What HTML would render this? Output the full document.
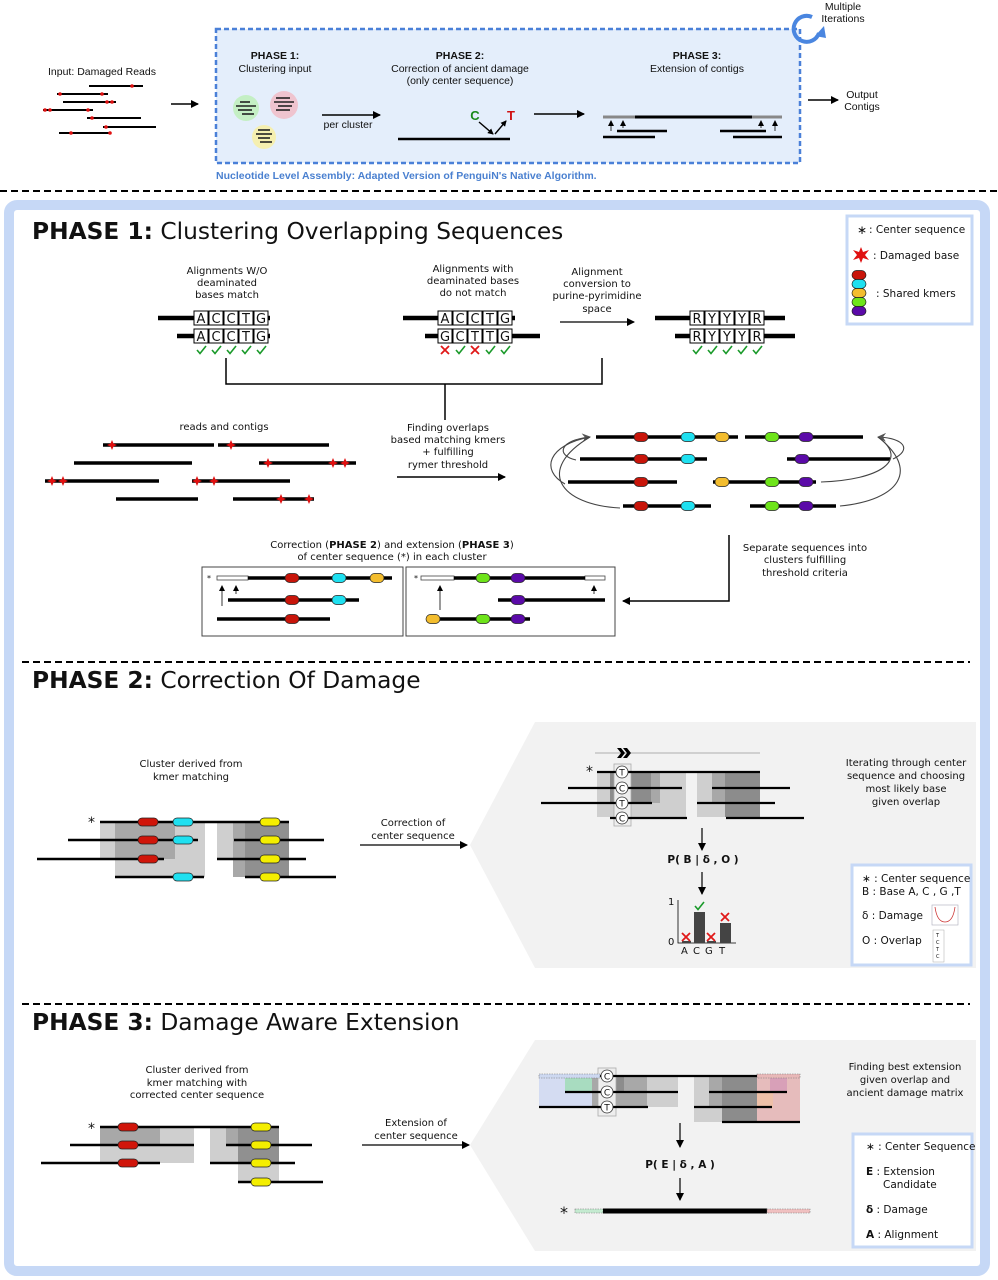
<!DOCTYPE html>
<html><head><meta charset="utf-8"><style>
html,body{margin:0;padding:0;background:#fff;}
svg{display:block;}
text{font-family:"DejaVu Sans","Liberation Sans",sans-serif;fill:#111;}
.s{font-size:10px;text-anchor:middle;}
.sl{font-size:10.5px;}
.b{font-weight:bold;}
.top text{font-family:"Liberation Sans",sans-serif;font-size:10.5px;}
.rd{stroke:#000;stroke-width:3.5;}
.k{stroke:#222;stroke-width:0.7;}
.ttl{font-size:23.3px;}
</style></head><body>
<svg width="998" height="1280" viewBox="0 0 998 1280" xmlns="http://www.w3.org/2000/svg">
<defs>
<marker id="ah" markerWidth="8" markerHeight="8" refX="7" refY="4" orient="auto" markerUnits="userSpaceOnUse"><path d="M0,0 L8,4 L0,8 z" fill="#000"/></marker>
<marker id="ahs" markerWidth="6" markerHeight="6" refX="5" refY="3" orient="auto" markerUnits="userSpaceOnUse"><path d="M0,0 L6,3 L0,6 z" fill="#000"/></marker>
<marker id="ahg" markerWidth="9" markerHeight="9" refX="8" refY="4.5" orient="auto" markerUnits="userSpaceOnUse"><path d="M0,0 L9,4.5 L0,9 L3,4.5 z" fill="#555"/></marker>
<g id="kr"><rect x="-7" y="-4.5" width="14" height="9" rx="4.5" fill="#c8150a" class="k"/></g>
<g id="kc"><rect x="-7" y="-4.5" width="14" height="9" rx="4.5" fill="#1fe0f0" class="k"/></g>
<g id="ko"><rect x="-7" y="-4.5" width="14" height="9" rx="4.5" fill="#f3bd2e" class="k"/></g>
<g id="kg"><rect x="-7" y="-4.5" width="14" height="9" rx="4.5" fill="#6ee41a" class="k"/></g>
<g id="kp"><rect x="-7" y="-4.5" width="14" height="9" rx="4.5" fill="#5b0aa8" class="k"/></g>
<g id="ky"><rect x="-10" y="-4" width="20" height="8" rx="4" fill="#f4ee00" class="k"/></g>
<g id="kr2"><rect x="-10" y="-4" width="20" height="8" rx="4" fill="#d0150a" class="k"/></g>
<g id="kc2"><rect x="-10" y="-4" width="20" height="8" rx="4" fill="#1fe0f0" class="k"/></g>
<g id="st"><path d="M0,-5 L1.5,-1.5 L5,0 L1.5,1.5 L0,5 L-1.5,1.5 L-5,0 L-1.5,-1.5 z" fill="#e01010"/></g>
<g id="ck"><path d="M-4,0 L-1,3.5 L5,-4" fill="none" stroke="#1a9a2a" stroke-width="1.6"/></g>
<g id="xx"><path d="M-4,-4 L4,4 M4,-4 L-4,4" stroke="#e01818" stroke-width="1.8"/></g>
</defs>

<!-- ===== TOP ===== -->
<g class="top">
<text class="s" x="102" y="75">Input: Damaged Reads</text>
<g>
<line x1="89" y1="86" x2="143" y2="86" stroke="#000" stroke-width="2"/>
<line x1="57" y1="94" x2="108" y2="94" stroke="#000" stroke-width="2"/>
<line x1="63" y1="102" x2="116" y2="102" stroke="#000" stroke-width="2"/>
<line x1="43" y1="110" x2="93" y2="110" stroke="#000" stroke-width="2"/>
<line x1="87" y1="118" x2="141" y2="118" stroke="#000" stroke-width="2"/>
<line x1="103" y1="127" x2="156" y2="127" stroke="#000" stroke-width="2"/>
<line x1="59" y1="133" x2="110" y2="133" stroke="#000" stroke-width="2"/>
</g>
<g fill="#e01010"><circle cx="132" cy="86" r="1.8"/><circle cx="60" cy="94" r="1.8"/><circle cx="102" cy="94" r="1.8"/><circle cx="107" cy="102" r="1.8"/><circle cx="112" cy="102" r="1.8"/><circle cx="45" cy="110" r="1.8"/><circle cx="50" cy="110" r="1.8"/><circle cx="88" cy="110" r="1.8"/><circle cx="92" cy="118" r="1.8"/><circle cx="106" cy="127" r="1.8"/><circle cx="71" cy="133" r="1.8"/><circle cx="110" cy="133" r="1.8"/></g>
<line x1="171" y1="104" x2="198" y2="104" stroke="#000" stroke-width="1.5" marker-end="url(#ah)"/>

<rect x="216" y="29" width="584" height="134" fill="#e4eefb" stroke="#4a80d8" stroke-width="2.5" stroke-dasharray="5,3"/>
<text class="s b" x="275" y="59">PHASE 1:</text>
<text class="s" x="275" y="72">Clustering input</text>
<circle cx="246" cy="108" r="13" fill="#c4efc4"/><circle cx="284" cy="105" r="14" fill="#efc4cf"/><circle cx="264" cy="137" r="12" fill="#f5efb0"/>
<g stroke="#222" stroke-width="1.6">
<line x1="240" y1="102" x2="250" y2="102"/><line x1="236" y1="106" x2="256" y2="106"/><line x1="238" y1="110" x2="252" y2="110"/><line x1="242" y1="114" x2="254" y2="114"/>
<line x1="276" y1="98" x2="290" y2="98"/><line x1="274" y1="102" x2="294" y2="102"/><line x1="278" y1="106" x2="292" y2="106"/><line x1="276" y1="110" x2="290" y2="110"/>
<line x1="258" y1="130" x2="270" y2="130"/><line x1="256" y1="134" x2="272" y2="134"/><line x1="258" y1="138" x2="270" y2="138"/><line x1="260" y1="142" x2="272" y2="142"/>
</g>
<line x1="322" y1="115" x2="380" y2="115" stroke="#000" stroke-width="1.5" marker-end="url(#ah)"/>
<text class="s" x="348" y="128">per cluster</text>
<text class="s b" x="460" y="59">PHASE 2:</text>
<text class="s" x="460" y="72">Correction of ancient damage</text>
<text class="s" x="460" y="84">(only center sequence)</text>
<line x1="398" y1="139" x2="510" y2="139" stroke="#000" stroke-width="2.5"/>
<text x="475" y="120" style="font-size:13px;font-weight:bold;fill:#1a8a1a;text-anchor:middle">C</text>
<text x="511" y="120" style="font-size:13px;font-weight:bold;fill:#d01010;text-anchor:middle">T</text>
<line x1="479" y1="122" x2="493" y2="134" stroke="#000" stroke-width="1.4" marker-end="url(#ahs)"/>
<line x1="495" y1="134" x2="506" y2="121" stroke="#000" stroke-width="1.4" marker-end="url(#ahs)"/>
<line x1="534" y1="114" x2="584" y2="114" stroke="#000" stroke-width="1.5" marker-end="url(#ah)"/>
<text class="s b" x="697" y="59">PHASE 3:</text>
<text class="s" x="697" y="72">Extension of contigs</text>
<line x1="603" y1="117" x2="782" y2="117" stroke="#888" stroke-width="3"/>
<line x1="635" y1="117" x2="752" y2="117" stroke="#000" stroke-width="3"/>
<line x1="617" y1="131" x2="667" y2="131" stroke="#000" stroke-width="2.5"/><line x1="603" y1="137" x2="655" y2="137" stroke="#000" stroke-width="2.5"/>
<line x1="720" y1="131" x2="766" y2="131" stroke="#000" stroke-width="2.5"/><line x1="733" y1="137" x2="782" y2="137" stroke="#000" stroke-width="2.5"/>
<g stroke="#000" stroke-width="0.8" marker-end="url(#ahs)"><line x1="611" y1="131" x2="611" y2="121"/><line x1="623" y1="128" x2="623" y2="121"/><line x1="761" y1="128" x2="761" y2="121"/><line x1="775" y1="131" x2="775" y2="121"/></g>
<path d="M812,17 A13,13 0 1 0 819,33" fill="none" stroke="#4a86e0" stroke-width="4"/>
<path d="M815,36 L824,26 L826,38 z" fill="#4a86e0"/>
<text class="s" x="843" y="10">Multiple</text><text class="s" x="843" y="22">Iterations</text>
<line x1="808" y1="100" x2="838" y2="100" stroke="#000" stroke-width="1.5" marker-end="url(#ah)"/>
<text class="s" x="862" y="98">Output</text><text class="s" x="862" y="110">Contigs</text>
<text x="216" y="179" style="font-size:10.5px;font-weight:bold;fill:#4a80d0">Nucleotide Level Assembly: Adapted Version of PenguiN's Native Algorithm.</text>
</g>
<line x1="0" y1="191" x2="998" y2="191" stroke="#000" stroke-width="2" stroke-dasharray="7,4"/>

<!-- ===== FRAME ===== -->
<rect x="9" y="205" width="976" height="1066" rx="8" fill="#fff" stroke="#c6d8f6" stroke-width="10"/>

<!-- ===== PHASE 1 ===== -->
<text class="ttl" x="32" y="239"><tspan font-weight="bold">PHASE 1:</tspan> Clustering Overlapping Sequences</text>
<rect x="847" y="216" width="125" height="108" fill="#fff" stroke="#c6d8f6" stroke-width="3"/>
<text x="857" y="234" style="font-size:12px">∗</text><text class="sl" x="869" y="233">: Center sequence</text>
<path d="M861,247 L863,252 L869,250 L865,255 L869,260 L863,258 L861,263 L859,258 L853,260 L857,255 L853,250 L859,252z" fill="#e01010"/>
<text class="sl" x="873" y="259">: Damaged base</text>
<use href="#kr" x="859" y="275"/><use href="#kc" x="859" y="284"/><use href="#ko" x="859" y="293"/><use href="#kg" x="859" y="302"/><use href="#kp" x="859" y="311"/>
<text class="sl" x="876" y="297">: Shared kmers</text>

<text class="s" x="227" y="274">Alignments W/O</text><text class="s" x="227" y="286">deaminated</text><text class="s" x="227" y="298">bases match</text>
<text class="s" x="473" y="272">Alignments with</text><text class="s" x="473" y="284">deaminated bases</text><text class="s" x="473" y="296">do not match</text>
<text class="s" x="597" y="275">Alignment</text><text class="s" x="597" y="287">conversion to</text><text class="s" x="597" y="299">purine-pyrimidine</text><text class="s" x="597" y="312">space</text>
<line x1="560" y1="322" x2="634" y2="322" stroke="#000" stroke-width="1.3" marker-end="url(#ah)"/>

<line x1="158" y1="318" x2="270" y2="318" stroke="#000" stroke-width="4.5"/>
<line x1="177" y1="336" x2="270" y2="336" stroke="#000" stroke-width="4.5"/>
<line x1="403" y1="318" x2="515" y2="318" stroke="#000" stroke-width="4.5"/>
<line x1="425" y1="336" x2="540" y2="336" stroke="#000" stroke-width="4.5"/>
<line x1="655" y1="318" x2="785" y2="318" stroke="#000" stroke-width="4.5"/>
<line x1="675" y1="336" x2="795" y2="336" stroke="#000" stroke-width="4.5"/>
<g style="font-size:13px" text-anchor="middle">
<g fill="#fff" stroke="#000" stroke-width="1">
<rect x="194" y="311" width="14" height="14"/><rect x="209" y="311" width="14" height="14"/><rect x="224" y="311" width="14" height="14"/><rect x="239" y="311" width="14" height="14"/><rect x="254" y="311" width="14" height="14"/>
<rect x="194" y="329" width="14" height="14"/><rect x="209" y="329" width="14" height="14"/><rect x="224" y="329" width="14" height="14"/><rect x="239" y="329" width="14" height="14"/><rect x="254" y="329" width="14" height="14"/>
<rect x="438" y="311" width="14" height="14"/><rect x="453" y="311" width="14" height="14"/><rect x="468" y="311" width="14" height="14"/><rect x="483" y="311" width="14" height="14"/><rect x="498" y="311" width="14" height="14"/>
<rect x="438" y="329" width="14" height="14"/><rect x="453" y="329" width="14" height="14"/><rect x="468" y="329" width="14" height="14"/><rect x="483" y="329" width="14" height="14"/><rect x="498" y="329" width="14" height="14"/>
<rect x="690" y="311" width="14" height="14"/><rect x="705" y="311" width="14" height="14"/><rect x="720" y="311" width="14" height="14"/><rect x="735" y="311" width="14" height="14"/><rect x="750" y="311" width="14" height="14"/>
<rect x="690" y="329" width="14" height="14"/><rect x="705" y="329" width="14" height="14"/><rect x="720" y="329" width="14" height="14"/><rect x="735" y="329" width="14" height="14"/><rect x="750" y="329" width="14" height="14"/>
</g>
<text x="201" y="323">A</text><text x="216" y="323">C</text><text x="231" y="323">C</text><text x="246" y="323">T</text><text x="261" y="323">G</text>
<text x="201" y="341">A</text><text x="216" y="341">C</text><text x="231" y="341">C</text><text x="246" y="341">T</text><text x="261" y="341">G</text>
<text x="445" y="323">A</text><text x="460" y="323">C</text><text x="475" y="323">C</text><text x="490" y="323">T</text><text x="505" y="323">G</text>
<text x="445" y="341">G</text><text x="460" y="341">C</text><text x="475" y="341">T</text><text x="490" y="341">T</text><text x="505" y="341">G</text>
<text x="697" y="323">R</text><text x="712" y="323">Y</text><text x="727" y="323">Y</text><text x="742" y="323">Y</text><text x="757" y="323">R</text>
<text x="697" y="341">R</text><text x="712" y="341">Y</text><text x="727" y="341">Y</text><text x="742" y="341">Y</text><text x="757" y="341">R</text>
</g>
<use href="#ck" x="201" y="350"/><use href="#ck" x="216" y="350"/><use href="#ck" x="231" y="350"/><use href="#ck" x="246" y="350"/><use href="#ck" x="261" y="350"/>
<use href="#xx" x="445" y="350"/><use href="#ck" x="460" y="350"/><use href="#xx" x="475" y="350"/><use href="#ck" x="490" y="350"/><use href="#ck" x="505" y="350"/>
<use href="#ck" x="697" y="350"/><use href="#ck" x="712" y="350"/><use href="#ck" x="727" y="350"/><use href="#ck" x="742" y="350"/><use href="#ck" x="757" y="350"/>
<path d="M226,358 V384 H602 V358 M445,384 V420" fill="none" stroke="#000" stroke-width="1.5"/>

<text class="s" x="224" y="430">reads and contigs</text>
<g stroke="#000" stroke-width="3.5">
<line x1="103" y1="445" x2="214" y2="445"/><line x1="218" y1="445" x2="329" y2="445"/>
<line x1="74" y1="463" x2="192" y2="463"/><line x1="259" y1="463" x2="356" y2="463"/>
<line x1="45" y1="481" x2="159" y2="481"/><line x1="192" y1="481" x2="290" y2="481"/>
<line x1="116" y1="499" x2="198" y2="499"/><line x1="233" y1="499" x2="314" y2="499"/>
</g>
<use href="#st" x="112" y="445"/><use href="#st" x="231" y="445"/><use href="#st" x="268" y="463"/><use href="#st" x="333" y="463"/><use href="#st" x="345" y="463"/><use href="#st" x="52" y="481"/><use href="#st" x="63" y="481"/><use href="#st" x="197" y="481"/><use href="#st" x="214" y="481"/><use href="#st" x="281" y="499"/><use href="#st" x="309" y="499"/>
<text class="s" x="448" y="431">Finding overlaps</text><text class="s" x="448" y="443">based matching kmers</text><text class="s" x="448" y="455">+ fulfilling</text><text class="s" x="448" y="468">rymer threshold</text>
<line x1="397" y1="477" x2="505" y2="477" stroke="#000" stroke-width="1.5" marker-end="url(#ah)"/>

<g stroke="#000" stroke-width="3.5">
<line x1="596" y1="437" x2="738" y2="437"/><line x1="745" y1="437" x2="863" y2="437"/>
<line x1="580" y1="459" x2="707" y2="459"/><line x1="787" y1="459" x2="890" y2="459"/>
<line x1="568" y1="482" x2="677" y2="482"/><line x1="713" y1="482" x2="816" y2="482"/>
<line x1="623" y1="506" x2="711" y2="506"/><line x1="750" y1="506" x2="836" y2="506"/>
</g>
<use href="#kr" x="641" y="437"/><use href="#kc" x="688" y="437"/><use href="#ko" x="722" y="437"/><use href="#kg" x="772" y="437"/><use href="#kp" x="806" y="437"/>
<use href="#kr" x="641" y="459"/><use href="#kc" x="688" y="459"/><use href="#kp" x="802" y="459"/>
<use href="#kr" x="641" y="482"/><use href="#ko" x="722" y="482"/><use href="#kg" x="772" y="482"/><use href="#kp" x="806" y="482"/>
<use href="#kr" x="641" y="506"/><use href="#kc" x="688" y="506"/><use href="#kg" x="772" y="506"/><use href="#kp" x="806" y="506"/>
<g fill="none" stroke="#444" stroke-width="1.1">
<path d="M576,460 C555,455 560,440 590,437" marker-end="url(#ahg)"/>
<path d="M565,484 C540,470 548,445 590,437"/>
<path d="M620,508 C560,505 535,470 590,437"/>
<path d="M893,459 C912,450 905,438 878,437" marker-end="url(#ahg)"/>
<path d="M821,482 C880,480 910,460 878,437"/>
<path d="M840,506 C900,500 920,470 878,437"/>
</g>

<text class="s" x="805" y="551">Separate sequences into</text><text class="s" x="805" y="563">clusters fulfilling</text><text class="s" x="805" y="576">threshold criteria</text>
<path d="M729,535 V601 H623" fill="none" stroke="#000" stroke-width="1.5" marker-end="url(#ah)"/>
<text class="s" x="392" y="548">Correction (<tspan font-weight="bold">PHASE 2</tspan>) and extension (<tspan font-weight="bold">PHASE 3</tspan>)</text>
<text class="s" x="392" y="560">of center sequence (*) in each cluster</text>
<rect x="202" y="567" width="201" height="69" fill="#fff" stroke="#444" stroke-width="1"/>
<rect x="406" y="567" width="209" height="69" fill="#fff" stroke="#444" stroke-width="1"/>
<text x="207" y="581" style="font-size:8px">*</text>
<rect x="217" y="576" width="31" height="4" fill="#fff" stroke="#444" stroke-width="0.8"/>
<line x1="248" y1="578" x2="392" y2="578" stroke="#000" stroke-width="3.5"/>
<line x1="228" y1="600" x2="359" y2="600" stroke="#000" stroke-width="3.5"/>
<line x1="217" y1="619" x2="330" y2="619" stroke="#000" stroke-width="3.5"/>
<use href="#kr" x="292" y="578"/><use href="#kc" x="339" y="578"/><use href="#ko" x="377" y="578"/><use href="#kr" x="292" y="600"/><use href="#kc" x="339" y="600"/><use href="#kr" x="292" y="619"/>
<g stroke="#000" stroke-width="0.8" marker-end="url(#ahs)"><line x1="222" y1="606" x2="222" y2="586"/><line x1="236" y1="594" x2="236" y2="586"/><line x1="440" y1="610" x2="440" y2="586"/><line x1="594" y1="594" x2="594" y2="586"/></g>
<text x="414" y="581" style="font-size:8px">*</text>
<rect x="421" y="576" width="33" height="4" fill="#fff" stroke="#444" stroke-width="0.8"/>
<rect x="585" y="576" width="20" height="4" fill="#fff" stroke="#444" stroke-width="0.8"/>
<line x1="454" y1="578" x2="585" y2="578" stroke="#000" stroke-width="3.5"/>
<line x1="498" y1="600" x2="605" y2="600" stroke="#000" stroke-width="3.5"/>
<line x1="426" y1="619" x2="530" y2="619" stroke="#000" stroke-width="3.5"/>
<use href="#kg" x="483" y="578"/><use href="#kp" x="518" y="578"/><use href="#kp" x="518" y="600"/><use href="#ko" x="433" y="619"/><use href="#kg" x="483" y="619"/><use href="#kp" x="518" y="619"/>

<line x1="22" y1="662" x2="970" y2="662" stroke="#000" stroke-width="2" stroke-dasharray="7,4"/>

<!-- ===== PHASE 2 ===== -->
<text class="ttl" x="32" y="688"><tspan font-weight="bold">PHASE 2:</tspan> Correction Of Damage</text>
<polygon points="535,722 976,722 976,968 535,968 470,845" fill="#f2f2f2"/>
<text class="s" x="191" y="767">Cluster derived from</text><text class="s" x="191" y="780">kmer matching</text>
<g>
<rect x="100" y="822" width="105" height="37" fill="#cfcfcf"/><rect x="115" y="822" width="60" height="55" fill="#a8a8a8"/>
<rect x="175" y="822" width="30" height="55" fill="#cfcfcf"/><rect x="115" y="859" width="90" height="18" fill="#cfcfcf"/>
<rect x="217" y="822" width="72" height="37" fill="#cfcfcf"/><rect x="233" y="822" width="56" height="55" fill="#a8a8a8"/><rect x="245" y="822" width="44" height="55" fill="#909090"/>
</g>
<text x="88" y="827" style="font-size:14px">*</text>
<g stroke="#000" stroke-width="2.5">
<line x1="100" y1="822" x2="289" y2="822"/><line x1="68" y1="840" x2="198" y2="840"/><line x1="234" y1="840" x2="324" y2="840"/>
<line x1="37" y1="859" x2="164" y2="859"/><line x1="217" y1="859" x2="306" y2="859"/>
<line x1="115" y1="877" x2="204" y2="877"/><line x1="245" y1="877" x2="336" y2="877"/>
</g>
<use href="#kr2" x="148" y="822"/><use href="#kc2" x="183" y="822"/><use href="#ky" x="270" y="822"/>
<use href="#kr2" x="148" y="840"/><use href="#kc2" x="183" y="840"/><use href="#ky" x="270" y="840"/>
<use href="#kr2" x="148" y="859"/><use href="#ky" x="270" y="859"/>
<use href="#kc2" x="183" y="877"/><use href="#ky" x="270" y="877"/>
<text class="s" x="413" y="826">Correction of</text><text class="s" x="413" y="839">center sequence</text>
<line x1="360" y1="845" x2="467" y2="845" stroke="#000" stroke-width="1.2" marker-end="url(#ah)"/>

<line x1="595" y1="753" x2="760" y2="753" stroke="#999" stroke-width="0.8"/>
<path d="M617,748 L621,748 L625,753 L621,758 L617,758 L621,753 z M623,748 L627,748 L631,753 L627,758 L623,758 L627,753 z" fill="#000"/>
<rect x="597" y="772" width="89" height="45" fill="#cfcfcf"/><rect x="610" y="772" width="50" height="31" fill="#a8a8a8"/><rect x="610" y="772" width="41" height="31" fill="#8c8c8c"/>
<rect x="697" y="772" width="63" height="45" fill="#cfcfcf"/><rect x="712" y="772" width="48" height="30" fill="#a8a8a8"/><rect x="725" y="772" width="35" height="45" fill="#8c8c8c"/>
<rect x="614" y="764" width="17" height="62" fill="#eee" stroke="#aaa" stroke-width="0.8"/>
<text x="586" y="776" style="font-size:14px">*</text>
<g stroke="#000" stroke-width="2.2">
<line x1="597" y1="772" x2="760" y2="772"/><line x1="568" y1="788" x2="682" y2="788"/><line x1="712" y1="788" x2="790" y2="788"/>
<line x1="541" y1="803" x2="652" y2="803"/><line x1="697" y1="803" x2="775" y2="803"/>
<line x1="610" y1="818" x2="687" y2="818"/><line x1="726" y1="818" x2="804" y2="818"/>
</g>
<g style="font-size:9px" text-anchor="middle"><circle cx="622" cy="772" r="6" fill="#fff" stroke="#333" stroke-width="0.8"/><text x="622" y="775.5">T</text>
<circle cx="622" cy="788" r="6" fill="#fff" stroke="#333" stroke-width="0.8"/><text x="622" y="791.5">C</text>
<circle cx="622" cy="803" r="6" fill="#fff" stroke="#333" stroke-width="0.8"/><text x="622" y="806.5">T</text>
<circle cx="622" cy="818" r="6" fill="#fff" stroke="#333" stroke-width="0.8"/><text x="622" y="821.5">C</text></g>
<line x1="702" y1="828" x2="702" y2="850" stroke="#000" stroke-width="1.2" marker-end="url(#ah)"/>
<text class="b" x="703" y="863" style="font-size:10.5px;text-anchor:middle">P( B |  δ ,  O  )</text>
<line x1="702" y1="872" x2="702" y2="894" stroke="#000" stroke-width="1.2" marker-end="url(#ah)"/>
<path d="M678,900 V943 H736" fill="none" stroke="#000" stroke-width="0.8"/>
<text x="668" y="905" style="font-size:10px">1</text><text x="668" y="945" style="font-size:10px">0</text>
<rect x="682" y="941" width="9" height="2" fill="#444"/><rect x="694" y="912" width="11" height="31" fill="#444"/><rect x="707" y="941" width="9" height="2" fill="#444"/><rect x="720" y="923" width="11" height="20" fill="#444"/>
<use href="#xx" x="686" y="937"/><use href="#ck" x="699" y="906"/><use href="#xx" x="711" y="937"/><use href="#xx" x="725" y="917"/>
<text x="681" y="954" style="font-size:10px">A</text><text x="693" y="954" style="font-size:10px">C</text><text x="705" y="954" style="font-size:10px">G</text><text x="719" y="954" style="font-size:10px">T</text>
<text class="s" x="906" y="766">Iterating through center</text><text class="s" x="906" y="779">sequence and choosing</text><text class="s" x="906" y="792">most likely base</text><text class="s" x="906" y="805">given overlap</text>
<rect x="852" y="865" width="119" height="100" fill="#fff" stroke="#c6d8f6" stroke-width="3"/>
<text class="sl" x="862" y="882">∗ : Center sequence</text>
<text class="sl" x="862" y="895">B : Base A, C , G ,T</text>
<text class="sl" x="862" y="919">δ : Damage</text>
<rect x="932" y="905" width="26" height="20" fill="#fff" stroke="#aab" stroke-width="0.6"/><path d="M935,907 Q937,922 945,922 Q953,922 955,907" fill="none" stroke="#c33" stroke-width="0.8"/>
<text class="sl" x="862" y="944">O : Overlap</text>
<rect x="933" y="930" width="11" height="32" fill="#fff" stroke="#aaa" stroke-width="0.5"/>
<text x="936" y="937" style="font-size:5px">T</text><text x="936" y="944" style="font-size:5px">C</text><text x="936" y="951" style="font-size:5px">T</text><text x="936" y="958" style="font-size:5px">C</text>

<line x1="22" y1="1004" x2="970" y2="1004" stroke="#000" stroke-width="2" stroke-dasharray="7,4"/>

<!-- ===== PHASE 3 ===== -->
<text class="ttl" x="32" y="1030"><tspan font-weight="bold">PHASE 3:</tspan> Damage Aware Extension</text>
<polygon points="535,1040 976,1040 976,1251 535,1251 470,1145" fill="#f2f2f2"/>
<text class="s" x="197" y="1073">Cluster derived from</text><text class="s" x="197" y="1086">kmer matching with</text><text class="s" x="197" y="1098">corrected center sequence</text>
<rect x="100" y="1127" width="94" height="36" fill="#cfcfcf"/><rect x="100" y="1127" width="60" height="18" fill="#a8a8a8"/>
<rect x="210" y="1127" width="69" height="36" fill="#cfcfcf"/><rect x="226" y="1127" width="53" height="18" fill="#a8a8a8"/><rect x="238" y="1145" width="41" height="37" fill="#cfcfcf"/><rect x="238" y="1127" width="41" height="36" fill="#909090"/>
<text x="88" y="1133" style="font-size:14px">*</text>
<g stroke="#000" stroke-width="2.5">
<line x1="100" y1="1127" x2="279" y2="1127"/><line x1="70" y1="1145" x2="194" y2="1145"/><line x1="226" y1="1145" x2="312" y2="1145"/>
<line x1="41" y1="1163" x2="160" y2="1163"/><line x1="210" y1="1163" x2="295" y2="1163"/><line x1="238" y1="1182" x2="323" y2="1182"/>
</g>
<use href="#kr2" x="128" y="1127"/><use href="#ky" x="261" y="1127"/><use href="#kr2" x="128" y="1145"/><use href="#ky" x="261" y="1145"/><use href="#kr2" x="128" y="1163"/><use href="#ky" x="261" y="1163"/><use href="#ky" x="261" y="1182"/>
<text class="s" x="416" y="1126">Extension of</text><text class="s" x="416" y="1139">center sequence</text>
<line x1="362" y1="1145" x2="469" y2="1145" stroke="#000" stroke-width="1.2" marker-end="url(#ah)"/>

<rect x="539" y="1076" width="61" height="31" fill="#d4dcf2"/><rect x="565" y="1076" width="27" height="16" fill="#a8dcc0"/>
<rect x="592" y="1076" width="86" height="31" fill="#cfcfcf"/><rect x="592" y="1076" width="55" height="31" fill="#a8a8a8"/><rect x="600" y="1076" width="24" height="16" fill="#8c8c8c"/>
<rect x="694" y="1076" width="63" height="46" fill="#cfcfcf"/><rect x="709" y="1076" width="48" height="31" fill="#a8a8a8"/><rect x="722" y="1076" width="35" height="46" fill="#8c8c8c"/>
<rect x="757" y="1076" width="43" height="46" fill="#e6bcbc"/><rect x="770" y="1076" width="17" height="16" fill="#d8a0b8"/><rect x="757" y="1092" width="16" height="16" fill="#eec0a8"/>
<rect x="598" y="1068" width="18" height="48" fill="#eee" stroke="#aaa" stroke-width="0.8"/>
<rect x="539" y="1074" width="61" height="4" fill="#cdd8f0" stroke="#777" stroke-width="0.6" stroke-dasharray="1.5,1"/>
<rect x="757" y="1074" width="43" height="4" fill="#e8b8b8" stroke="#777" stroke-width="0.6" stroke-dasharray="1.5,1"/>
<g stroke="#000" stroke-width="2.2">
<line x1="600" y1="1076" x2="757" y2="1076"/><line x1="565" y1="1092" x2="678" y2="1092"/><line x1="709" y1="1092" x2="787" y2="1092"/>
<line x1="539" y1="1107" x2="648" y2="1107"/><line x1="694" y1="1107" x2="772" y2="1107"/><line x1="722" y1="1122" x2="800" y2="1122"/>
</g>
<g style="font-size:9px" text-anchor="middle"><circle cx="607" cy="1076" r="6" fill="#fff" stroke="#333" stroke-width="0.8"/><text x="607" y="1079.5">C</text>
<circle cx="607" cy="1092" r="6" fill="#fff" stroke="#333" stroke-width="0.8"/><text x="607" y="1095.5">C</text>
<circle cx="607" cy="1107" r="6" fill="#fff" stroke="#333" stroke-width="0.8"/><text x="607" y="1110.5">T</text></g>
<line x1="680" y1="1123" x2="680" y2="1147" stroke="#000" stroke-width="1.2" marker-end="url(#ah)"/>
<text class="b" x="680" y="1168" style="font-size:10.5px;text-anchor:middle">P( E | δ , A )</text>
<line x1="680" y1="1178" x2="680" y2="1200" stroke="#000" stroke-width="1.2" marker-end="url(#ah)"/>
<text x="560" y="1218" style="font-size:16px">*</text>
<rect x="575" y="1209" width="28" height="4" fill="#c4ead0" stroke="#777" stroke-width="0.6" stroke-dasharray="1.5,1"/>
<line x1="603" y1="1211" x2="767" y2="1211" stroke="#000" stroke-width="5"/>
<rect x="767" y="1209" width="43" height="4" fill="#f0c0c0" stroke="#777" stroke-width="0.6" stroke-dasharray="1.5,1"/>
<text class="s" x="905" y="1070">Finding best extension</text><text class="s" x="905" y="1083">given overlap and</text><text class="s" x="905" y="1096">ancient damage matrix</text>
<rect x="853" y="1134" width="119" height="113" fill="#fff" stroke="#c6d8f6" stroke-width="3"/>
<text class="sl" x="866" y="1150">∗ : Center Sequence</text>
<text class="sl" x="866" y="1175"><tspan font-weight="bold">E</tspan> : Extension</text>
<text class="sl" x="883" y="1188">Candidate</text>
<text class="sl" x="866" y="1213"><tspan font-weight="bold">δ</tspan> : Damage</text>
<text class="sl" x="866" y="1238"><tspan font-weight="bold">A</tspan> : Alignment</text>
</svg>
</body></html>
